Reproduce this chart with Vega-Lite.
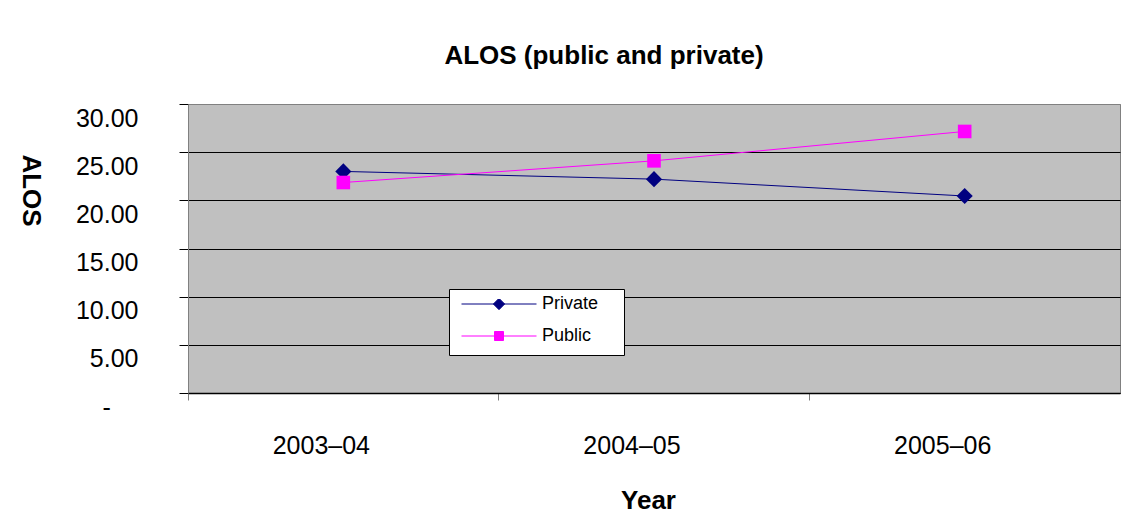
{
  "$schema": "https://vega.github.io/schema/vega-lite/v6.json",
  "width": 932,
  "height": 289,
  "autosize": {"type": "none"},
  "padding": {"left": 188, "top": 104, "right": 26, "bottom": 124},
  "background": "white",
  "title": {
    "text": "ALOS (public and private)",
    "font": "Liberation Sans",
    "fontSize": 26,
    "fontWeight": "bold",
    "color": "black",
    "anchor": "middle",
    "baseline": "alphabetic",
    "dx": -50,
    "offset": 14
  },
  "config": {
    "view": {"fill": "#C0C0C0", "stroke": "#808080", "strokeWidth": 1},
    "font": "Liberation Sans"
  },
  "data": {
    "values": [
      {"year": "2003–04", "series": "Private", "alos": 23.0},
      {"year": "2004–05", "series": "Private", "alos": 22.2},
      {"year": "2005–06", "series": "Private", "alos": 20.45},
      {"year": "2003–04", "series": "Public", "alos": 21.85},
      {"year": "2004–05", "series": "Public", "alos": 24.1},
      {"year": "2005–06", "series": "Public", "alos": 27.15}
    ]
  },
  "encoding": {
    "x": {
      "field": "year",
      "type": "ordinal",
      "sort": null,
      "scale": {"type": "band", "paddingInner": 0, "paddingOuter": 0},
      "axis": {
        "title": "Year",
        "titleFont": "Liberation Sans",
        "titleFontSize": 26,
        "titleFontWeight": "bold",
        "titleColor": "black",
        "titleX": 460,
        "titleY": 115,
        "titleAlign": "center",
        "titleBaseline": "alphabetic",
        "labelAngle": 0,
        "labelFont": "Liberation Sans",
        "labelFontSize": 25,
        "labelColor": "black",
        "labelPadding": 33,
        "labelBaseline": "top",
        "bandPosition": 0,
        "labelAlign": "center",
        "labelOffset": -22,
        "tickColor": "#808080",
        "tickSize": 7,
        "domainColor": "black",
        "domainWidth": 1.5,
        "grid": false
      }
    },
    "y": {
      "field": "alos",
      "type": "quantitative",
      "scale": {"domain": [0, 30], "nice": false, "zero": true},
      "axis": {
        "title": "ALOS",
        "titleFont": "Liberation Sans",
        "titleFontSize": 26,
        "titleFontWeight": "bold",
        "titleColor": "black",
        "titleAngle": 90,
        "titleX": -158,
        "titleY": 86,
        "titleAlign": "center",
        "titleBaseline": "middle",
        "values": [0, 5, 10, 15, 20, 25, 30],
        "labelExpr": "datum.value == 0 ? '-\u00a0\u00a0\u00a0\u00a0\u200b' : format(datum.value, '.2f')",
        "labelFont": "Liberation Sans",
        "labelFontSize": 25,
        "labelColor": "black",
        "labelPadding": 41,
        "labelOffset": 14,
        "labelBaseline": "middle",
        "tickColor": "black",
        "tickSize": 9,
        "domainColor": "#808080",
        "grid": true,
        "gridColor": {"condition": {"test": "datum.value == 30", "value": "#808080"}, "value": "black"},
        "gridOpacity": 1,
        "gridWidth": 1
      }
    }
  },
  "layer": [
    {
      "mark": {"type": "line", "strokeWidth": 1},
      "encoding": {
        "color": {
          "field": "series",
          "type": "nominal",
          "scale": {"domain": ["Private", "Public"], "range": ["#000080", "#FF00FF"]},
          "legend": {
            "orient": "none",
            "legendX": 261,
            "legendY": 185,
            "title": null,
            "fillColor": "white",
            "strokeColor": "black",
            "padding": 10,
            "symbolOffset": 2,
            "labelFont": "Liberation Sans",
            "labelFontSize": 18,
            "labelColor": "black",
            "labelOffset": 5,
            "symbolSize": 5625,
            "clipHeight": 10,
            "rowPadding": 14,
            "labelExpr": "datum.label + '\u00a0\u00a0\u00a0\u200b'",
            "encode": {
              "symbols": {
                "update": {
                  "shape": {"signal": "datum.value === 'Private' ? 'M-1,0H1M0,-0.15L0.15,0L0,0.15L-0.15,0Z' : 'M-1,0H1M-0.12,-0.12H0.12V0.12H-0.12Z'"},
                  "fill": {"scale": "color", "field": "value"},
                  "stroke": {"scale": "color", "field": "value"},
                  "strokeWidth": {"value": 1},
                  "opacity": {"value": 1}
                }
              }
            }
          }
        }
      }
    },
    {
      "transform": [{"filter": "datum.series === 'Private'"}],
      "mark": {"type": "point", "filled": true, "opacity": 1, "shape": "diamond", "color": "#000080", "size": 260}
    },
    {
      "transform": [{"filter": "datum.series === 'Public'"}],
      "mark": {"type": "point", "filled": true, "opacity": 1, "shape": "square", "color": "#FF00FF", "size": 185}
    }
  ]
}
